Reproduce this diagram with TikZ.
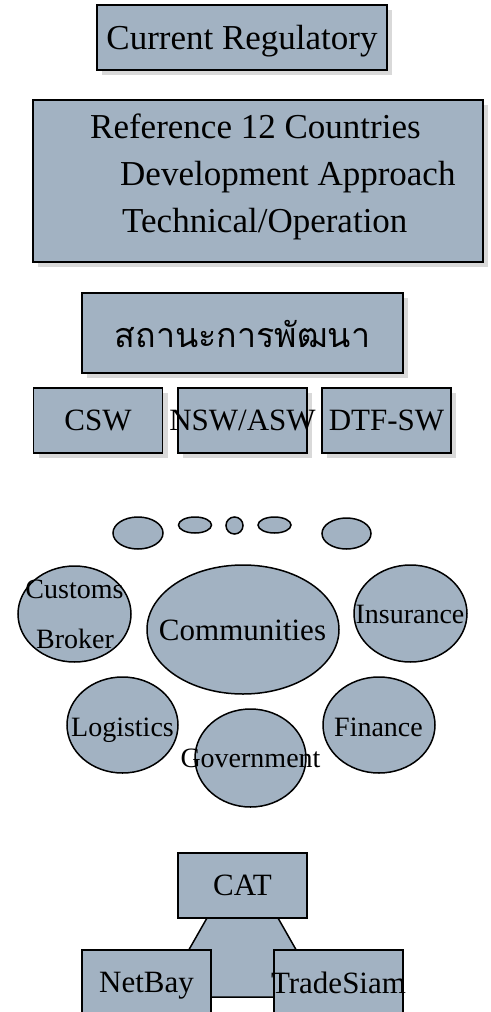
\documentclass[tikz,border=0pt]{standalone}
\usepackage{fontspec}
\setmainfont{Liberation Serif}
\newfontfamily\thaifont[Script=Thai]{Loma}
\usetikzlibrary{shapes.geometric,shadows}
\definecolor{slate}{RGB}{162,178,194}
\definecolor{shade}{RGB}{217,217,217}

\begin{document}
\begin{tikzpicture}[x=1pt,y=-1pt,
	box/.style={rectangle,draw,line width=1.5pt,fill=slate,inner sep=0pt,text depth=0pt,font=\fontsize{31}{37}\selectfont},
	shadebox/.style={box,drop shadow={shadow xshift=5pt,shadow yshift=-5pt,fill=shade,opacity=1}},
	blob/.style={ellipse,draw,line width=1.5pt,fill=slate,inner sep=0pt},
	word/.style={anchor=base,inner sep=0pt,font=\fontsize{28}{34}\selectfont}]
		\useasboundingbox (0,0) rectangle (490,1012);
		% top boxes
		\node[shadebox,minimum width=290,minimum height=65,font=\fontsize{35}{42}\selectfont] (regulatory) at (242,37.5) {Current Regulatory};
		\node[shadebox,minimum width=450,minimum height=162] (reference) at (258,181) {};
		\node[word,anchor=base west,font=\fontsize{35}{42}\selectfont] (countries) at (90,138) {Reference 12 Countries};
		\node[word,anchor=base west,font=\fontsize{35}{42}\selectfont] (approach) at (120,185) {Development Approach};
		\node[word,anchor=base west,font=\fontsize{35}{42}\selectfont] (technical) at (122,232) {Technical/Operation};
		\node[shadebox,minimum width=321,minimum height=80] (status) at (242.5,333) {};
		\node[word,font=\thaifont\fontsize{34}{40}\selectfont] (statustext) at (242.5,347) {สถานะการพัฒนา};
		\node[shadebox,minimum width=129,minimum height=65] (csw) at (98,420.5) {CSW};
		\node[shadebox,minimum width=129,minimum height=65] (nsw) at (242.5,420.5) {\makebox[0pt]{NSW/ASW}};
		\node[shadebox,minimum width=129,minimum height=65] (dtf) at (386.5,420.5) {DTF-SW};
		% small ellipses
		\foreach \cx/\cy/\w/\h[count=\i] in {138/533/50/32, 195/525/33/16, 234.5/525.5/17/17, 274.5/525/33/16, 346.5/533.5/49/31}{
		\node[blob,minimum width=\w,minimum height=\h] (dot-\i) at (\cx,\cy) {};
		}
		% communities
		\node[blob,minimum width=113,minimum height=96] (broker) at (74.5,614) {};
		\node[blob,minimum width=192,minimum height=129] (communities) at (243,629.5) {};
		\node[blob,minimum width=113,minimum height=97] (insurance) at (410.5,613.5) {};
		\node[blob,minimum width=111,minimum height=96] (logistics) at (122.5,725) {};
		\node[blob,minimum width=111,minimum height=98] (government) at (250.5,758) {};
		\node[blob,minimum width=112,minimum height=96] (finance) at (379,725) {};
		\node[word] at (74.5,598) {Customs};
		\node[word] at (75,648) {Broker};
		\node[word,font=\fontsize{31}{37}\selectfont] at (242.5,640) {Communities};
		\node[word] at (410,623) {Insurance};
		\node[word] at (122.5,736) {Logistics};
		\node[word] at (250.5,767) {Government};
		\node[word] at (378.5,736) {Finance};
		% providers
		\filldraw[fill=slate,line width=1.5pt] (207,918) -- (278,918) -- (323,997) -- (162,997) -- cycle;
		\node[box,minimum width=129,minimum height=65] (cat) at (242.5,885.5) {CAT};
		\node[box,minimum width=129,minimum height=65] (netbay) at (146.5,982.5) {NetBay};
		\node[box,minimum width=129,minimum height=65] (tradesiam) at (338.5,982.5) {\makebox[0pt]{TradeSiam}};
		\end{tikzpicture}
\end{document}
